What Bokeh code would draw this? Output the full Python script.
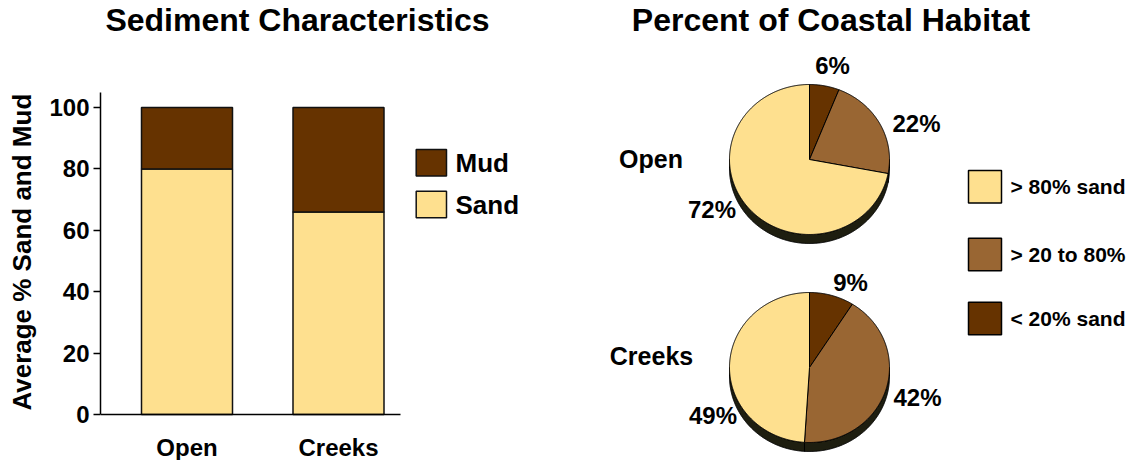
import numpy as np
from bokeh.plotting import figure
from bokeh.models import Range1d, FixedTicker, ColumnDataSource
from bokeh.core.properties import value
from bokeh.embed import file_html
from bokeh.resources import INLINE

# ---------------- data ----------------
bar_categories = ["Open", "Creeks"]
sand_pct = [80, 66]
mud_pct = [20, 34]
bar_legend = ["Mud", "Sand"]
y_ticks = [0, 20, 40, 60, 80, 100]

pie_sites = ["Open", "Creeks"]
slice_classes = ["< 20% sand", "> 20 to 80%", "> 80% sand"]  # clockwise from top
open_shares = [6, 22, 72]
creeks_shares = [9, 42, 49]
legend_classes = ["> 80% sand", "> 20 to 80%", "< 20% sand"]

left_title = "Sediment Characteristics"
right_title = "Percent of Coastal Habitat"
y_label = "Average % Sand and Mud"

# ---------------- style / layout ----------------
FONT = "Liberation Sans"
SAND = "#FEE08F"
MID = "#996633"
MUD = "#663300"
WALL = "#1E1E10"
EDGE = "#111111"
class_colors = {"< 20% sand": MUD, "> 20 to 80%": MID, "> 80% sand": SAND}

W, H = 1128, 460
OX, OY = 0, 0                 # picture position of the canvas corner
FRAME_L = 100                 # picture x of the frame's left edge (y axis)
BORDER_L = FRAME_L - OX
FRAME_R = OX + W
FRAME_T, FRAME_B = OY, OY + H
Y0 = 414                      # picture y of value 0
XS = 151.5                    # px per category step
YS = 3.07                     # px per percent

x_start = 1 - (186.5 - FRAME_L) / XS
x_end = x_start + (FRAME_R - FRAME_L) / XS
y_start = -(FRAME_B - Y0) / YS
y_end = (Y0 - FRAME_T) / YS


def lx(px):
    return x_start + (px - FRAME_L) / XS


p = figure(width=W, height=H, title=None,
           x_range=Range1d(x_start, x_end), y_range=Range1d(y_start, y_end),
           output_backend="svg", toolbar_location=None,
           min_border_left=BORDER_L, min_border_right=0, min_border_top=0, min_border_bottom=0)
p.outline_line_color = None
p.xgrid.grid_line_color = None
p.ygrid.grid_line_color = None
# picture-pixel coordinates for annotations and pies
p.extra_x_ranges = {"px": Range1d(FRAME_L, FRAME_R)}
p.extra_y_ranges = {"py": Range1d(FRAME_B, FRAME_T)}
PX = dict(x_range_name="px", y_range_name="py")

# ---------------- bars ----------------
xpos = [i + 1 for i in range(len(bar_categories))]
src = ColumnDataSource(dict(x=xpos, sand=sand_pct, mud=mud_pct))
p.vbar_stack(["sand", "mud"], x="x", width=91 / XS, fill_color=[SAND, MUD],
             line_color=EDGE, line_width=1.5, source=src)

ya = p.yaxis[0]
ya.ticker = FixedTicker(ticks=y_ticks)
ya.bounds = (0, (Y0 - 92) / YS)
# the axis title is centred on the whole frame; trailing no-break spaces move the
# visible words down so that they sit centred on the drawn axis span
ya.axis_label = y_label + "\u00a0" * 6
ya.axis_label_text_font = FONT
ya.axis_label_text_font_style = "bold"
ya.axis_label_text_font_size = "26px"
ya.axis_label_text_color = "black"
ya.axis_label_standoff = 9
ya.major_label_text_font = FONT
ya.major_label_text_font_style = "bold"
ya.major_label_text_font_size = "24px"
ya.major_label_text_color = "black"
ya.major_label_standoff = 4
ya.major_tick_out = 7
ya.major_tick_in = 0
ya.major_tick_line_width = 1.5
ya.minor_tick_line_color = None
ya.axis_line_width = 1.5
ya.axis_line_color = "black"

xa = p.xaxis[0]
xa.fixed_location = 0
xa.ticker = FixedTicker(ticks=xpos)
xa.major_label_overrides = {x: c for x, c in zip(xpos, bar_categories)}
xa.bounds = (x_start, lx(400))
xa.major_tick_line_color = None
xa.major_tick_out = 0
xa.major_tick_in = 0
xa.minor_tick_line_color = None
xa.minor_tick_out = 0
xa.major_label_text_font = FONT
xa.major_label_text_font_style = "bold"
xa.major_label_text_font_size = "24px"
xa.major_label_text_color = "black"
xa.major_label_standoff = 19
xa.axis_line_width = 1.5
xa.axis_line_color = "black"

txt = dict(text_font=value(FONT), text_font_style="bold", text_color="black", **PX)

p.text(x=[297], y=[19.5], text=[left_title], text_align="center", text_baseline="middle",
       text_font_size="32px", **txt)

leg_tops = [149, 190.7]
p.quad(left=[415.7] * 2, right=[446] * 2, top=leg_tops, bottom=[t + 26.5 for t in leg_tops],
       fill_color=[MUD, SAND], line_color=EDGE, line_width=1.5, **PX)
p.text(x=[455] * 2, y=[t + 13.5 for t in leg_tops], text=bar_legend,
       text_align="left", text_baseline="middle", text_font_size="26px", **txt)

# ---------------- pies ----------------
PIE_CX = 809
PIE_CY = [159, 367]
RX, RY, DEPTH = 80, 75, 9


def arc(cx, cy, a0, a1, dy=0.0):
    n = max(int(abs(a1 - a0) * 2) + 2, 3)
    t = np.radians(np.linspace(a0, a1, n))
    return list(cx + RX * np.sin(t)), list(cy + dy - RY * np.cos(t))


wall_xs, wall_ys, top_xs, top_ys, top_cols = [], [], [], [], []
for shares, cy in zip([open_shares, creeks_shares], PIE_CY):
    total = float(sum(shares))
    bnds = np.concatenate([[0.0], np.cumsum(shares) / total * 360.0])
    for i, cls in enumerate(slice_classes):
        a0, a1 = bnds[i], bnds[i + 1]
        w0, w1 = max(a0, 90.0), min(a1, 270.0)
        if w1 > w0:
            tx, ty = arc(PIE_CX, cy, w0, w1)
            bx, by = arc(PIE_CX, cy, w1, w0, dy=DEPTH)
            wall_xs.append(tx + bx)
            wall_ys.append(ty + by)
        sx, sy = arc(PIE_CX, cy, a0, a1)
        top_xs.append([PIE_CX] + sx)
        top_ys.append([cy] + sy)
        top_cols.append(class_colors[cls])

p.patches(wall_xs, wall_ys, fill_color=WALL, line_color="black", line_width=1, **PX)
p.patches(top_xs, top_ys, fill_color=top_cols, line_color="black", line_width=1, **PX)

label_pos = [(832, 65), (916, 123), (711.5, 209), (850, 282), (917, 397), (712.5, 415)]
pct_text = [f"{v}%" for v in open_shares + creeks_shares]
p.text(x=[q[0] for q in label_pos], y=[q[1] for q in label_pos], text=pct_text,
       text_align="center", text_baseline="middle", text_font_size="24px", **txt)

p.text(x=[650.5, 651], y=[158, 355], text=pie_sites, text_align="center", text_baseline="middle",
       text_font_size="25px", **txt)

p.text(x=[830.5], y=[19.5], text=[right_title], text_align="center", text_baseline="middle",
       text_font_size="32px", **txt)

rl_tops = [170, 237.7, 301.7]
p.quad(left=[968] * 3, right=[1001] * 3, top=rl_tops, bottom=[t + 32.5 for t in rl_tops],
       fill_color=[class_colors[c] for c in legend_classes], line_color="black", line_width=1.5, **PX)
p.text(x=[1010] * 3, y=[t + 16 for t in rl_tops], text=legend_classes,
       text_align="left", text_baseline="middle", text_font_size="21px", **txt)

open("out.html", "w").write(file_html(p, INLINE))
